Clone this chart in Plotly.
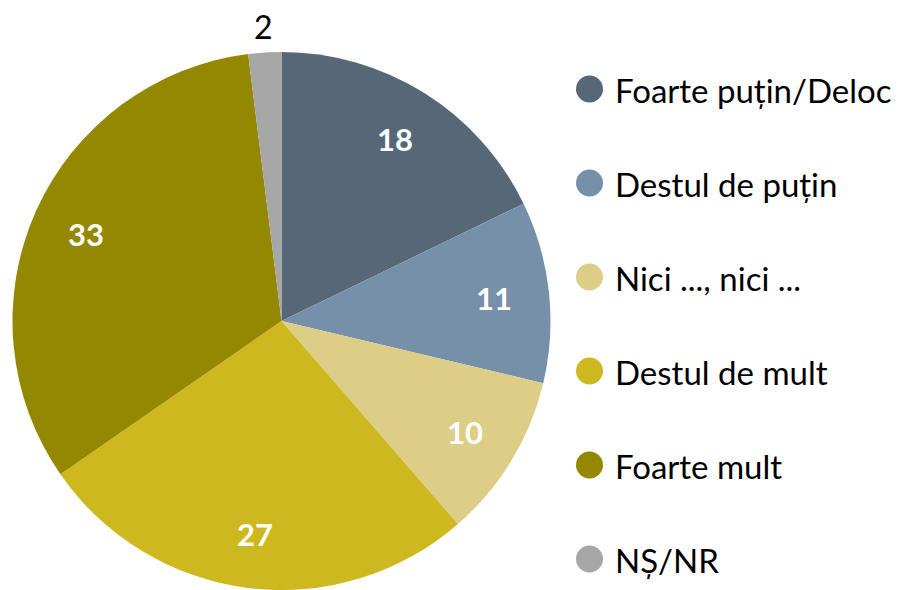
import math
import plotly.graph_objects as go

categories = ["Foarte puțin/Deloc", "Destul de puțin", "Nici ..., nici ...",
              "Destul de mult", "Foarte mult", "NȘ/NR"]
values = [18, 11, 10, 27, 33, 2]
colors = ["#566778", "#7590A8", "#DCCD87", "#CDB820", "#948800", "#A6A6A6"]

W, H = 908, 590
FONT = "Lato"
OFF = 8  # page body margin offset

# pie geometry in pixels (page coordinates, shifted by body margin)
x0, x1 = 12 - OFF, 551 - OFF
y_top, y_bot = 52 - OFF, 590 - OFF
cx = (x0 + x1) / 2
cy = (y_top + y_bot) / 2
R = (x1 - x0) / 2

fig = go.Figure()
fig.add_trace(go.Pie(
    labels=categories, values=values, sort=False, direction="clockwise",
    rotation=0, marker=dict(colors=colors, line=dict(width=0)),
    textinfo="none", hoverinfo="label+value", showlegend=False,
    domain=dict(x=[x0 / W, x1 / W], y=[1 - y_bot / H, 1 - y_top / H]),
))

# value labels computed from the data
total = sum(values)
cum = 0
annotations = []
for v, c in zip(values, categories):
    mid = (cum + v / 2) / total * 2 * math.pi
    cum += v
    inside = v >= 5
    r = R * (0.795 if inside else 1.095)
    px = cx + r * math.sin(mid)
    py = cy - r * math.cos(mid)
    annotations.append(dict(
        x=px / W, y=1 - py / H, xref="paper", yref="paper",
        text=(f"<b>{v}</b>" if inside else str(v)), showarrow=False,
        font=dict(family=FONT, size=31 if inside else 32,
                  color="white" if inside else "black"),
        xanchor="center", yanchor="middle",
    ))

# custom legend
shapes = []
leg_x = 589.5 - OFF
leg_r = 13.5
row0, step = 89 - OFF, 94
for i, (c, col) in enumerate(zip(categories, colors)):
    yy = row0 + i * step
    shapes.append(dict(type="circle", xref="paper", yref="paper",
                       x0=(leg_x - leg_r) / W, x1=(leg_x + leg_r) / W,
                       y0=1 - (yy + leg_r) / H, y1=1 - (yy - leg_r) / H,
                       fillcolor=col, line=dict(width=0)))
    annotations.append(dict(x=(613 - OFF) / W, y=1 - (yy + 1) / H, xref="paper", yref="paper",
                            text=c, showarrow=False, xanchor="left", yanchor="middle",
                            font=dict(family=FONT, size=33, color="black")))

fig.update_layout(
    width=W, height=H, margin=dict(l=0, r=0, t=0, b=0),
    paper_bgcolor="white", plot_bgcolor="white",
    annotations=annotations, shapes=shapes, showlegend=False,
)
fig.write_html("out.html")
